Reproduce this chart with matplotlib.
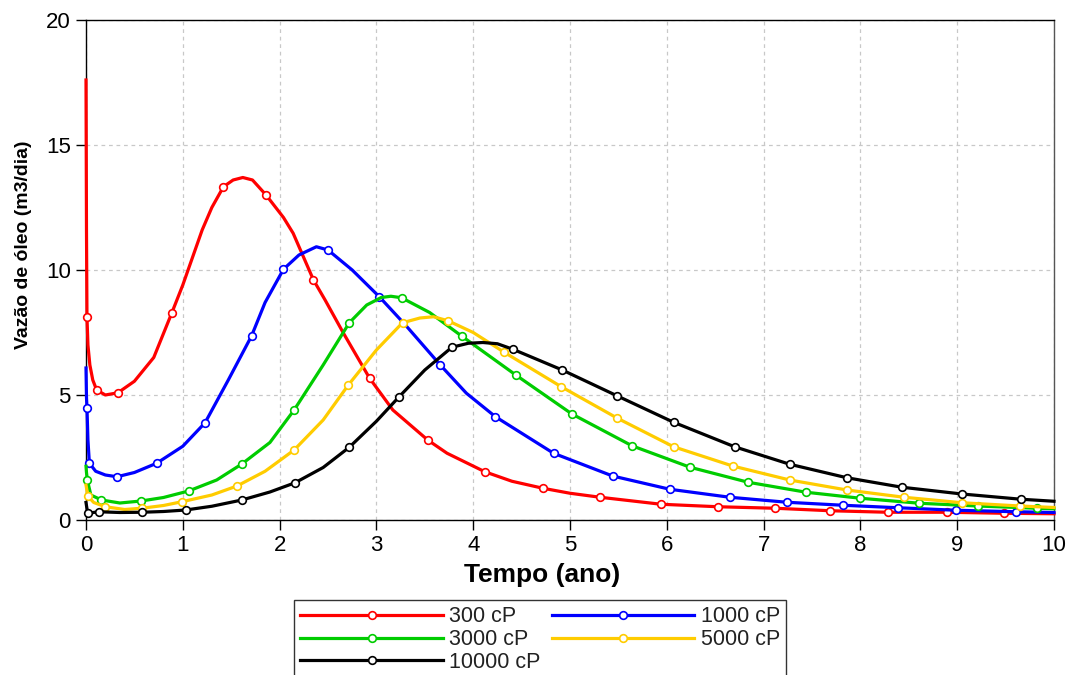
import numpy as np
import matplotlib
matplotlib.use("Agg")
import matplotlib.pyplot as plt

plt.rcParams['font.family'] = ['Liberation Sans', 'DejaVu Sans']

# oil rate curves for each viscosity (time in years, rate in m3/day)
t_300 = [0, 0.005, 0.01, 0.02, 0.04, 0.07, 0.11, 0.2, 0.33, 0.5, 0.7, 0.885, 1.0, 1.1,
         1.2, 1.3, 1.42, 1.52, 1.62, 1.72, 1.86, 2.04, 2.14, 2.35, 2.47, 2.66, 2.93,
         3.17, 3.53, 3.73, 4.12, 4.4, 4.72, 5.0, 5.31, 5.94, 6.53, 7.12, 7.69, 8.28,
         8.89, 9.48, 10]
q_300 = [17.6, 11.6, 8.13, 7.0, 6.2, 5.6, 5.2, 5.0, 5.09, 5.55, 6.5, 8.27, 9.4, 10.5,
         11.6, 12.5, 13.33, 13.6, 13.7, 13.6, 13.0, 12.1, 11.47, 9.6, 8.8, 7.47, 5.67,
         4.4, 3.2, 2.67, 1.93, 1.55, 1.27, 1.07, 0.91, 0.63, 0.53, 0.47, 0.37, 0.31,
         0.31, 0.27, 0.25]
mk_300 = [0.01, 0.11, 0.33, 0.885, 1.42, 1.86, 2.35, 2.93, 3.53, 4.12, 4.72, 5.31,
          5.94, 6.53, 7.12, 7.69, 8.28, 8.89, 9.48]

t_1000 = [0, 0.005, 0.01, 0.02, 0.035, 0.1, 0.2, 0.32, 0.5, 0.73, 1.0, 1.23, 1.47,
          1.71, 1.85, 2.04, 2.2, 2.38, 2.5, 2.75, 3.03, 3.3, 3.66, 3.93, 4.23, 4.83,
          5.44, 6.03, 6.65, 7.24, 7.82, 8.39, 8.99, 9.61, 10]
q_1000 = [6.08, 4.9, 4.5, 3.2, 2.27, 1.95, 1.8, 1.73, 1.9, 2.27, 2.95, 3.89, 5.6,
          7.36, 8.7, 10.03, 10.6, 10.93, 10.8, 10.0, 8.93, 7.8, 6.2, 5.07, 4.13, 2.67,
          1.76, 1.23, 0.91, 0.71, 0.59, 0.49, 0.39, 0.33, 0.3]
mk_1000 = [0.01, 0.035, 0.32, 0.73, 1.23, 1.71, 2.04, 2.5, 3.03, 3.66, 4.23, 4.83,
           5.44, 6.03, 6.65, 7.24, 7.82, 8.39, 8.99, 9.61]

t_3000 = [0, 0.005, 0.014, 0.05, 0.16, 0.35, 0.57, 0.8, 1.06, 1.35, 1.61, 1.9, 2.15,
          2.45, 2.72, 2.9, 3.05, 3.15, 3.26, 3.55, 3.88, 4.44, 5.02, 5.64, 6.24, 6.84,
          7.44, 8.0, 8.61, 9.21, 9.82, 10]
q_3000 = [2.15, 1.9, 1.6, 1.0, 0.8, 0.68, 0.76, 0.9, 1.16, 1.6, 2.24, 3.1, 4.4, 6.2,
          7.89, 8.6, 8.9, 8.95, 8.89, 8.3, 7.36, 5.8, 4.24, 2.97, 2.11, 1.51, 1.11,
          0.87, 0.67, 0.56, 0.47, 0.45]
mk_3000 = [0.014, 0.16, 0.57, 1.06, 1.61, 2.15, 2.72, 3.26, 3.88, 4.44, 5.02, 5.64,
           6.24, 6.84, 7.44, 8.0, 8.61, 9.21, 9.82]

t_5000 = [0, 0.02, 0.08, 0.2, 0.4, 0.575, 0.8, 0.99, 1.3, 1.56, 1.85, 2.15, 2.45,
          2.71, 3.0, 3.27, 3.45, 3.59, 3.74, 4.0, 4.32, 4.91, 5.49, 6.07, 6.68, 7.27,
          7.86, 8.45, 9.05, 9.65, 10]
q_5000 = [1.4, 0.95, 0.7, 0.53, 0.42, 0.47, 0.58, 0.73, 1.0, 1.36, 1.95, 2.8, 4.0,
          5.4, 6.8, 7.89, 8.08, 8.13, 7.97, 7.5, 6.71, 5.33, 4.07, 2.93, 2.16, 1.6,
          1.2, 0.91, 0.69, 0.56, 0.5]
mk_5000 = [0.02, 0.2, 0.575, 0.99, 1.56, 2.15, 2.71, 3.27, 3.74, 4.32, 4.91, 5.49,
           6.07, 6.68, 7.27, 7.86, 8.45, 9.05, 9.65]

t_10000 = [0, 0.01, 0.02, 0.13, 0.35, 0.58, 0.8, 1.03, 1.3, 1.61, 1.9, 2.16, 2.45,
           2.72, 3.0, 3.23, 3.5, 3.78, 3.95, 4.1, 4.25, 4.41, 4.92, 5.49, 6.07, 6.7,
           7.27, 7.86, 8.43, 9.05, 9.66, 10]
q_10000 = [0.7, 0.45, 0.27, 0.33, 0.3, 0.31, 0.34, 0.4, 0.55, 0.8, 1.12, 1.49, 2.1,
           2.91, 3.95, 4.91, 6.0, 6.91, 7.07, 7.1, 7.05, 6.83, 6.0, 4.96, 3.91, 2.93,
           2.23, 1.69, 1.31, 1.04, 0.83, 0.75]
mk_10000 = [0.02, 0.13, 0.58, 1.03, 1.61, 2.16, 2.72, 3.23, 3.78, 4.41, 4.92, 5.49,
            6.07, 6.7, 7.27, 7.86, 8.43, 9.05, 9.66]

labels = ["300 cP", "1000 cP", "3000 cP", "5000 cP", "10000 cP"]
colors = ["#ff0000", "#0000ff", "#00cc00", "#ffcc00", "#000000"]

series = [(t_300, q_300, mk_300), (t_1000, q_1000, mk_1000), (t_3000, q_3000, mk_3000),
          (t_5000, q_5000, mk_5000), (t_10000, q_10000, mk_10000)]

fig = plt.figure(figsize=(10.7, 6.75), dpi=100)
ax = fig.add_axes([86 / 1070, 155 / 675, 968 / 1070, 500 / 675])

lines = []
for (t, q, mk), lab, c in zip(series, labels, colors):
    t = np.array(t)
    idx = list(np.nonzero(np.isin(t, mk))[0])
    ln, = ax.plot(t, q, color=c, lw=2.3, label=lab, marker='o', markevery=idx,
                  ms=5.5, mfc='white', mec=c, mew=1.2, clip_on=False, zorder=3)
    lines.append(ln)

ax.set_xlim(0, 10)
ax.set_ylim(0, 20)
ax.set_xticks(range(0, 11))
ax.set_yticks([0, 5, 10, 15, 20])
ax.grid(True, color='#c8c8c8', ls=(0, (3, 3)), lw=0.9)
ax.tick_params(direction='out', length=7, width=1, labelsize=16, pad=4)
for s in ax.spines.values():
    s.set_linewidth(1)
ax.spines['right'].set_color('#555555')

ax.set_xlabel("Tempo (ano)", fontsize=19, fontweight='bold', labelpad=5, x=0.471)
ax.set_ylabel("Vazão de óleo (m3/dia)", fontsize=14, fontweight='bold', labelpad=10,
              y=0.55)

# legend filled row by row, two columns
order = [0, 2, 4, 1, 3]
leg = fig.legend([lines[i] for i in order], [labels[i] for i in order],
                 loc='upper left', bbox_to_anchor=(294 / 1070, 1 - 600 / 675),
                 ncol=2, fontsize=15.5, frameon=True, fancybox=False,
                 edgecolor='#333333', framealpha=1, handlelength=6.6,
                 handletextpad=0.3, columnspacing=0.55, labelspacing=0.08,
                 borderpad=0.3, borderaxespad=0)
leg.get_frame().set_linewidth(1)
for txt in leg.get_texts():
    txt.set_color('#222222')

fig.savefig("out.png", dpi=100)
